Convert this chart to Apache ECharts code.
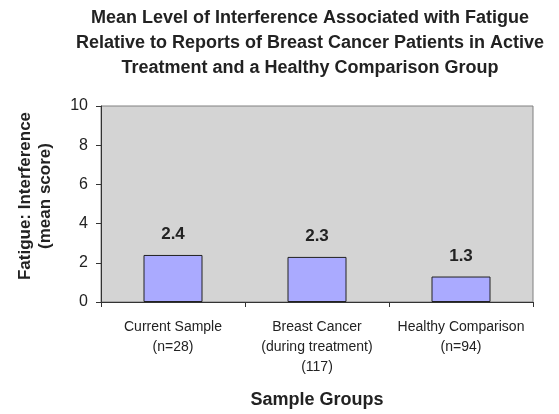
<!DOCTYPE html>
<html><head><meta charset="utf-8">
<script src="https://cdn.jsdelivr.net/npm/echarts@6/dist/echarts.min.js"></script>
<style>html,body{margin:0;padding:0;background:#fff}#c{width:559px;height:414px}</style>
</head><body><div id="c"></div>
<script>
var categories = ['Current Sample\n(n=28)', 'Breast Cancer\n(during treatment)\n(117)', 'Healthy Comparison\n(n=94)'];
var values = [2.4, 2.3, 1.3];
var valueLabels = ['2.4', '2.3', '1.3'];
var yTicks = { min: 0, max: 10, interval: 2 };
var titleText = 'Mean Level of Interference Associated with Fatigue\nRelative to Reports of Breast Cancer Patients in Active\nTreatment and a Healthy Comparison Group';
var yName = 'Fatigue: Interference\n(mean score)';
var xName = 'Sample Groups';

var chart = echarts.init(document.getElementById('c'), null, {renderer: 'canvas'});
var font = 'Arial, "Liberation Sans", sans-serif';
chart.setOption({
  animation: false,
  title: {
    text: titleText, left: 305, top: 1, textAlign: 'center',
    textStyle: { fontFamily: font, fontSize: 18, fontWeight: 'bold', color: '#222', lineHeight: 25 }
  },
  grid: { left: 101, right: 26, top: 106, bottom: 112, show: true, backgroundColor: '#D4D4D4', borderColor: '#808080', borderWidth: 1 },
  xAxis: {
    type: 'category', data: categories,
    name: xName, nameLocation: 'middle', nameGap: 89,
    nameTextStyle: { fontFamily: font, fontSize: 18, fontWeight: 'bold', color: '#222' },
    axisLine: { lineStyle: { color: '#333', width: 1 } },
    axisTick: { show: true, length: 5, lineStyle: { color: '#333' } },
    axisLabel: { margin: 15, fontFamily: font, fontSize: 14, color: '#222', lineHeight: 20, interval: 0 }
  },
  yAxis: {
    type: 'value', min: yTicks.min, max: yTicks.max, interval: yTicks.interval,
    name: yName, nameLocation: 'middle', nameGap: 46,
    nameTextStyle: { fontFamily: font, fontSize: 17, fontWeight: 'bold', color: '#222', lineHeight: 20, padding: [0, 0, 0, 16] },
    axisLine: { show: true, lineStyle: { color: '#333', width: 1 } },
    axisTick: { show: true, length: 5, lineStyle: { color: '#333' } },
    splitLine: { show: false },
    axisLabel: { margin: 13, fontFamily: font, fontSize: 16, color: '#222' }
  },
  series: [{
    type: 'bar', data: values, barWidth: 59,
    itemStyle: { color: '#AAAAFF', borderColor: '#222', borderWidth: 1 },
    label: {
      show: true, position: 'top', distance: 12,
      formatter: function (p) { return valueLabels[p.dataIndex]; },
      fontFamily: font, fontSize: 17, fontWeight: 'bold', color: '#222'
    }
  }]
});
</script></body></html>
